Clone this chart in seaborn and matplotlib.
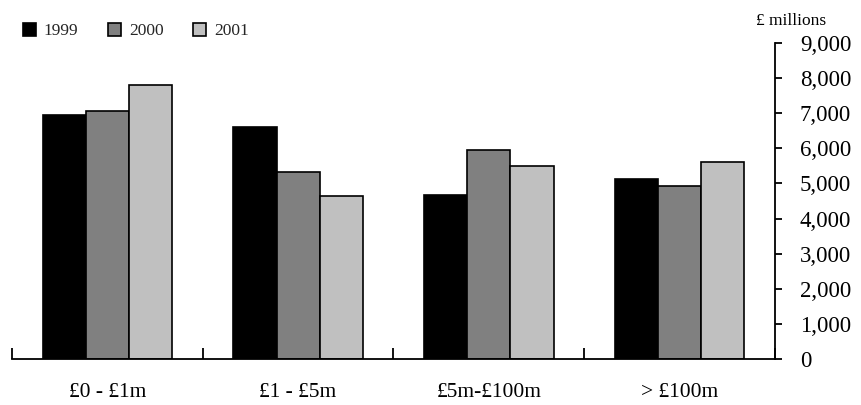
import matplotlib
matplotlib.use("Agg")
import matplotlib.pyplot as plt
import seaborn as sns
import pandas as pd
from matplotlib.ticker import FuncFormatter, FixedLocator
from matplotlib.patches import Patch

categories = ["£0 - £1m", "£1 - £5m", "£5m-£100m", "> £100m"]
years = ["1999", "2000", "2001"]
values_1999 = [6950, 6610, 4670, 5120]
values_2000 = [7050, 5340, 5950, 4940]
values_2001 = [7800, 4650, 5510, 5620]
colors = ["#000000", "#808080", "#c0c0c0"]

rows = []
for yr, vals in zip(years, [values_1999, values_2000, values_2001]):
    for c, v in zip(categories, vals):
        rows.append({"category": c, "year": yr, "value": v})
df = pd.DataFrame(rows)

sns.set_theme(style="white")
plt.rcParams["font.family"] = ["Liberation Serif", "DejaVu Serif"]

fig = plt.figure(figsize=(8.62, 4.05), dpi=100)
ax = fig.add_axes([12/862, 1-359/405, (775-12)/862, (359-43)/405])

sns.barplot(data=df, x="category", y="value", hue="year", order=categories,
            hue_order=years, palette=colors, width=0.68, edgecolor="black",
            linewidth=1.2, ax=ax, legend=False, saturation=1)

ax.set_ylim(0, 9000)
ax.set_xlim(-0.5, 3.5)
ax.set_xlabel("")
ax.set_ylabel("")

for s in ["left", "top"]:
    ax.spines[s].set_visible(False)
for s in ["right", "bottom"]:
    ax.spines[s].set_color("black")
    ax.spines[s].set_linewidth(1.3)

# y axis on right
ax.yaxis.tick_right()
ax.yaxis.set_major_locator(FixedLocator(range(0, 9001, 1000)))
ax.yaxis.set_major_formatter(FuncFormatter(lambda v, p: f"{int(v):,}"))
ax.tick_params(axis="y", which="major", right=True, left=False, direction="out",
               length=5, width=1.3, color="black", pad=13, labelsize=16.5,
               labelcolor="black")

# x axis: boundary ticks pointing up, labels centered
ax.xaxis.set_major_locator(FixedLocator([-0.5, 0.5, 1.5, 2.5, 3.5]))
ax.xaxis.set_minor_locator(FixedLocator([0, 1, 2, 3]))
ax.set_xticklabels([""] * 5)
ax.set_xticklabels(categories, minor=True)
ax.tick_params(axis="x", which="major", bottom=True, direction="in", length=8,
               width=1.3, color="black")
ax.tick_params(axis="x", which="minor", bottom=True, length=0, pad=17,
               labelsize=15.5, labelcolor="black")

ax.text(791/862, 1-21/405, "£ millions", transform=fig.transFigure,
        ha="center", va="center", fontsize=12.5, color="black")

handles = [Patch(facecolor=c, edgecolor="black", linewidth=1.2) for c in colors]
fig.legend(handles, years, loc="center left", bbox_to_anchor=(23/862, 1-31/405),
           ncol=3, frameon=False, fontsize=12.5, handlelength=0.75, handleheight=0.75,
           handletextpad=0.45, columnspacing=1.7, borderpad=0, borderaxespad=0)

fig.savefig("out.png", dpi=100)
